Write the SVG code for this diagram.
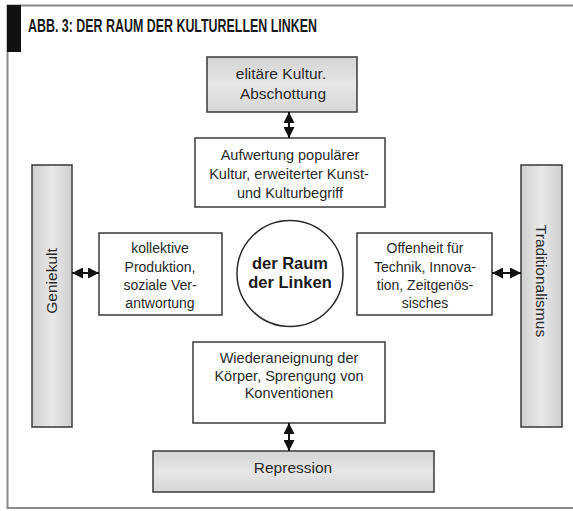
<svg xmlns="http://www.w3.org/2000/svg" width="573" height="511" viewBox="0 0 573 511">
<defs>
<linearGradient id="gv" x1="0" y1="0" x2="0" y2="1">
<stop offset="0" stop-color="#d4d4d4"/><stop offset="0.5" stop-color="#e6e6e6"/><stop offset="1" stop-color="#d6d6d6"/>
</linearGradient>
<linearGradient id="gh" x1="0" y1="0" x2="1" y2="0">
<stop offset="0" stop-color="#cfcfcf"/><stop offset="0.5" stop-color="#e8e8e8"/><stop offset="1" stop-color="#d0d0d0"/>
</linearGradient>
<marker id="ah" viewBox="0 0 10 10" refX="10" refY="5" markerWidth="11" markerHeight="11" markerUnits="userSpaceOnUse" orient="auto-start-reverse">
<path d="M0,0 L10,5 L0,10 Z" fill="#111"/>
</marker>
<style>
.box{fill:#fff;stroke:#3a3a3a;stroke-width:1.5}
.gbox{fill:url(#gv);stroke:#3a3a3a;stroke-width:1.5}
.bar{fill:url(#gh);stroke:#3a3a3a;stroke-width:1.5}
.t{font-family:"Liberation Sans",Arial,sans-serif;font-size:14px;fill:#2a2a2a;text-anchor:middle}
.m{font-size:14.5px}
.l{font-size:15.5px}
.tb{font-family:"Liberation Sans",Arial,sans-serif;font-size:16.5px;font-weight:bold;fill:#1a1a1a;text-anchor:middle}
.c{stroke:#111;stroke-width:2;fill:none;marker-start:url(#ah);marker-end:url(#ah)}
</style>
</defs>
<rect width="573" height="511" fill="#fff"/>
<g id="frame">
<path d="M573,5.5 H7.5 V508 H573" fill="none" stroke="#8a8a8a" stroke-width="2"/>
<rect x="7" y="5" width="14" height="47" fill="#111"/>
<text x="28" y="32" font-family="'Liberation Sans Narrow','Liberation Sans',Arial,sans-serif" font-size="17.5" font-weight="bold" fill="#1a1a1a" textLength="289" lengthAdjust="spacingAndGlyphs">ABB. 3: DER RAUM DER KULTURELLEN LINKEN</text>
</g>
<g id="elitaere">
<rect class="gbox" x="207" y="57" width="150" height="55"/>
<text class="t l" x="281" y="79">elitäre Kultur.</text>
<text class="t l" x="283" y="99">Abschottung</text>
</g>
<g id="aufwertung">
<rect class="box" x="195" y="138" width="190" height="69"/>
<text class="t m" x="290" y="160">Aufwertung populärer</text>
<text class="t m" x="289" y="179">Kultur, erweiterter Kunst-</text>
<text class="t m" x="290" y="198">und Kulturbegriff</text>
</g>
<g id="geniekult">
<rect class="bar" x="32" y="165" width="40" height="262"/>
<text class="t l" transform="translate(57,281) rotate(-90)">Geniekult</text>
</g>
<g id="kollektive">
<rect class="box" x="99" y="233" width="123" height="82"/>
<text class="t" x="160" y="253">kollektive</text>
<text class="t" x="160" y="272">Produktion,</text>
<text class="t" x="160" y="290">soziale Ver-</text>
<text class="t" x="160" y="308">antwortung</text>
</g>
<g id="raum">
<circle cx="290" cy="273.5" r="53" fill="#fff" stroke="#2a2a2a" stroke-width="1.5"/>
<text class="tb" x="290" y="269">der Raum</text>
<text class="tb" x="290" y="288">der Linken</text>
</g>
<g id="offenheit">
<rect class="box" x="357" y="233" width="135" height="82"/>
<text class="t" x="425" y="253">Offenheit für</text>
<text class="t" x="425" y="272">Technik, Innova-</text>
<text class="t" x="425" y="290">tion, Zeitgenös-</text>
<text class="t" x="425" y="308">sisches</text>
</g>
<g id="traditionalismus">
<rect class="bar" x="521" y="165" width="41" height="262"/>
<text class="t l" transform="translate(536,281) rotate(90)">Traditionalismus</text>
</g>
<g id="wiederaneignung">
<rect class="box" x="193" y="342" width="192" height="81"/>
<text class="t m" x="289" y="363">Wiederaneignung der</text>
<text class="t m" x="289" y="381">Körper, Sprengung von</text>
<text class="t m" x="289" y="398">Konventionen</text>
</g>
<g id="repression">
<rect class="gbox" x="153" y="451" width="281" height="41"/>
<text class="t l" x="293" y="473">Repression</text>
</g>
<g id="connectors">
<line class="c" x1="289" y1="112" x2="289" y2="138"/>
<line class="c" x1="289" y1="423" x2="289" y2="451"/>
<line class="c" x1="72" y1="273" x2="99" y2="273"/>
<line class="c" x1="492" y1="273" x2="521" y2="273"/>
</g>
</svg>
